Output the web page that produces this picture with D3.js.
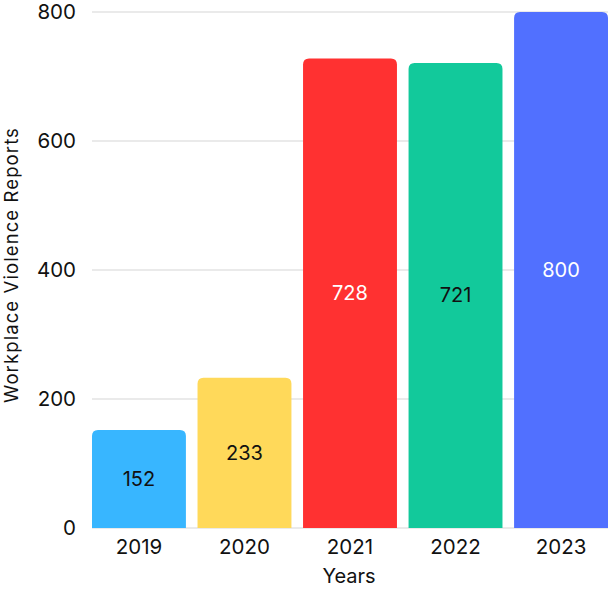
<!DOCTYPE html>
<html><head><meta charset="utf-8">
<script src="https://cdn.jsdelivr.net/npm/d3@7/dist/d3.min.js"></script>
<style>body{margin:0;background:#fff;} text{font-family:Inter, "Open Sans", sans-serif;}</style>
</head><body>
<svg id="c" width="611" height="589"></svg>
<script>
const years = ["2019","2020","2021","2022","2023"];
const reports = [152,233,728,721,800];
const colors = ["#38B6FF","#FFD95A","#FF3131","#12C99B","#5170FF"];
const labelColors = ["#111","#111","#fff","#111","#fff"];
const yTicks = [0,200,400,600,800];

const svg = d3.select("#c");
const x = d3.scaleBand().domain(years).range([92,608]).paddingInner(0.11).paddingOuter(0);
const y = d3.scaleLinear().domain([0,800]).range([528,12]);

// gridlines
svg.append("g").selectAll("line").data(yTicks).join("line")
  .attr("x1",92).attr("x2",608)
  .attr("y1",d=>y(d)).attr("y2",d=>y(d))
  .attr("stroke","#e3e3e3").attr("stroke-width",1.5);

// y axis labels
const ya = svg.append("g").attr("transform","translate(76,0)")
  .call(d3.axisLeft(y).tickValues(yTicks).tickSize(0).tickPadding(0));
ya.select(".domain").remove();
ya.selectAll("text").attr("font-size",20.5).attr("fill","#111").style("font-family","Inter, sans-serif");

// x axis labels
const xa = svg.append("g").attr("transform","translate(0,528)")
  .call(d3.axisBottom(x).tickSize(0).tickPadding(11));
xa.select(".domain").remove();
xa.selectAll("text").attr("font-size",20.5).attr("fill","#111").style("font-family","Inter, sans-serif");

// bars with rounded top corners
const r = 6;
function barPath(d,i){
  const x0 = x(years[i]), w = x.bandwidth(), y0 = y(d), y1 = y(0);
  return `M${x0},${y1}V${y0+r}Q${x0},${y0} ${x0+r},${y0}H${x0+w-r}Q${x0+w},${y0} ${x0+w},${y0+r}V${y1}Z`;
}
svg.append("g").selectAll("path").data(reports).join("path")
  .attr("d",barPath).attr("fill",(d,i)=>colors[i]);

// value labels
svg.append("g").selectAll("text").data(reports).join("text")
  .attr("x",(d,i)=>x(years[i])+x.bandwidth()/2)
  .attr("y",d=>(y(d)+y(0))/2)
  .attr("dy","0.35em")
  .attr("text-anchor","middle")
  .attr("font-size",20)
  .attr("fill",(d,i)=>labelColors[i])
  .text(d=>d);

// axis titles
svg.append("text").attr("x",349).attr("y",583).attr("text-anchor","middle")
  .attr("font-size",20).attr("fill","#111").text("Years");
svg.append("text").attr("transform","translate(18,265) rotate(-90)")
  .attr("text-anchor","middle").attr("font-size",18.5).attr("letter-spacing",1.1).attr("fill","#111")
  .text("Workplace Violence Reports");
</script>
</body></html>
